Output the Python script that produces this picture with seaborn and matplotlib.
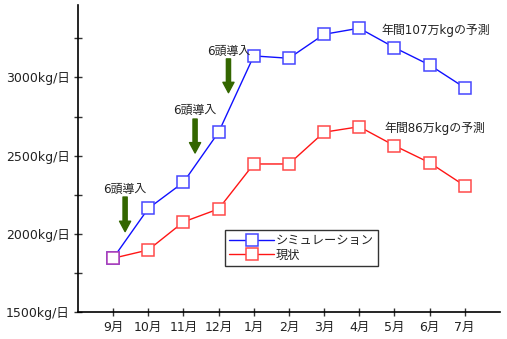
import numpy as np
import pandas as pd
import matplotlib
matplotlib.use("Agg")
import matplotlib.pyplot as plt
from matplotlib.lines import Line2D
from matplotlib.ticker import MultipleLocator
import seaborn as sns

# Monthly milk output (kg/day)
months = ["9月", "10月", "11月", "12月", "1月", "2月", "3月", "4月", "5月", "6月", "7月"]
simulation = [1845, 2163, 2330, 2650, 3137, 3122, 3275, 3314, 3190, 3079, 2934]
current = [1845, 1898, 2077, 2160, 2447, 2447, 2650, 2685, 2564, 2455, 2308]
series_names = ["シミュレーション", "現状"]

# Herd additions (month position, label)
intro_pos = [0.34, 2.33, 3.28]
intro_label = "6頭導入"

# Annual forecasts
forecast_labels = ["年間107万kgの予測", "年間86万kgの予測"]

y_ticks = [1500, 2000, 2500, 3000]
y_tick_labels = ["1500kg/日", "2000kg/日", "2500kg/日", "3000kg/日"]

sns.set_style("ticks")
plt.rcParams["font.family"] = ["DejaVu Sans", "Noto Sans CJK JP"]

text_color = "#222222"
blue_line, blue_mark = "#1010ff", "#4646ff"
red_line, red_mark = "#ff1515", "#ff4a4a"
both_mark = "#b040b8"
arrow_color = "#336600"

fig = plt.figure(figsize=(5.07, 3.39), dpi=100)
ax = fig.add_axes([0.1538, 0.0788, 0.8322, 0.9064])

x = np.arange(len(months))
df = pd.DataFrame({"x": x, "sim": simulation, "cur": current})

ms = 8.6
sns.lineplot(data=df, x="x", y="cur", ax=ax, color=red_line, linewidth=1.0,
             marker="s", markersize=ms, markerfacecolor="white",
             markeredgecolor=red_mark, markeredgewidth=1.1, legend=False)
sns.lineplot(data=df, x="x", y="sim", ax=ax, color=blue_line, linewidth=1.0,
             marker="s", markersize=ms, markerfacecolor="white",
             markeredgecolor=blue_mark, markeredgewidth=1.1, legend=False)

# Months where both series share a value get one blended marker
same = df[df["sim"] == df["cur"]]
sns.scatterplot(data=same, x="x", y="sim", ax=ax, marker="s", s=ms ** 2,
                color="white", edgecolor=both_mark, linewidth=1.1,
                zorder=5, legend=False)

# Arrows marking herd additions
arrow_tops = [2236, 2734, 3118]
arrow_tips = [2015, 2517, 2902]
label_y = [2287, 2786, 3168]
for px, top, tip, ly in zip(intro_pos, arrow_tops, arrow_tips, label_y):
    ax.annotate("", xy=(px, tip), xytext=(px, top),
                arrowprops=dict(arrowstyle="simple,head_width=0.8,head_length=0.75,tail_width=0.3",
                                color=arrow_color, shrinkA=0, shrinkB=0,
                                mutation_scale=10))
    ax.text(px, ly, intro_label, ha="center", va="center", fontsize=8.6,
            color=text_color)

ax.text(7.64, 3303, forecast_labels[0], ha="left", va="center",
        fontsize=8.6, color=text_color)
ax.text(7.73, 2675, forecast_labels[1], ha="left", va="center",
        fontsize=8.6, color=text_color)

# Axes
ax.set_xlim(-1, 11)
ax.set_ylim(1500, 3462)
ax.set_xticks(x)
ax.set_xticklabels(months)
ax.set_yticks(y_ticks)
ax.set_yticklabels(y_tick_labels)
ax.yaxis.set_minor_locator(MultipleLocator(250))
ax.set_xlabel("")
ax.set_ylabel("")
ax.tick_params(axis="both", which="both", direction="inout", length=6,
               width=1.0, color="#333333", labelsize=9.0,
               labelcolor=text_color)
ax.tick_params(axis="y", which="major", pad=3)
ax.tick_params(axis="x", which="major", pad=3)
sns.despine(ax=ax)
for side in ("left", "bottom"):
    ax.spines[side].set_color("black")
    ax.spines[side].set_linewidth(1.2)

handles = [
    Line2D([], [], color=blue_line, linewidth=1.0, marker="s", markersize=ms,
           markerfacecolor="white", markeredgecolor=blue_mark, markeredgewidth=1.1),
    Line2D([], [], color=red_line, linewidth=1.0, marker="s", markersize=ms,
           markerfacecolor="white", markeredgecolor=red_mark, markeredgewidth=1.1),
]
leg = ax.legend(handles, series_names, loc="upper left",
                bbox_to_anchor=(0.348, 0.268), fontsize=8.8, frameon=True,
                fancybox=False, edgecolor="black", handlelength=3.7,
                handletextpad=0.1, borderpad=0.35, labelspacing=0.12,
                borderaxespad=0)
leg.get_frame().set_linewidth(1.0)
for t in leg.get_texts():
    t.set_color(text_color)

fig.savefig("out.png", dpi=100)
